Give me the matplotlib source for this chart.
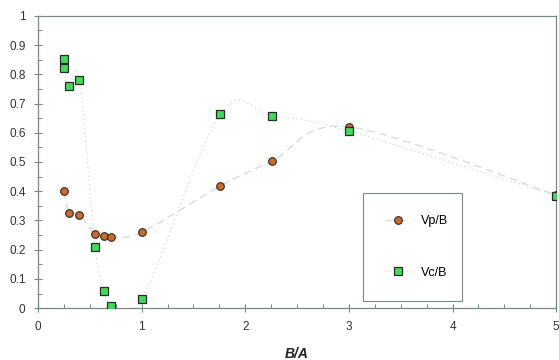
import numpy as np
import matplotlib.pyplot as plt
from matplotlib.ticker import MultipleLocator
from matplotlib.lines import Line2D

# data
vp_x = [0.25, 0.30, 0.40, 0.55, 0.64, 0.70, 1.00, 1.76, 2.26, 3.00, 5.00]
vp_y = [0.400, 0.325, 0.320, 0.253, 0.247, 0.243, 0.260, 0.418, 0.503, 0.620, 0.387]

vc_x = [0.25, 0.25, 0.30, 0.40, 0.55, 0.64, 0.70, 1.00, 1.76, 2.26, 3.00, 5.00]
vc_y = [0.853, 0.820, 0.760, 0.780, 0.210, 0.060, 0.007, 0.030, 0.664, 0.658, 0.606, 0.385]


def smooth(xs, ys, n=20):
    # Catmull-Rom curve through the points (like a spreadsheet "smoothed line")
    p = np.column_stack([xs, ys]).astype(float)
    p = np.vstack([p[0], p, p[-1]])
    out = []
    t = np.linspace(0, 1, n)[:, None]
    for i in range(1, len(p) - 2):
        p0, p1, p2, p3 = p[i - 1], p[i], p[i + 1], p[i + 2]
        seg = 0.5 * ((2 * p1) + (-p0 + p2) * t + (2 * p0 - 5 * p1 + 4 * p2 - p3) * t ** 2
                     + (-p0 + 3 * p1 - 3 * p2 + p3) * t ** 3)
        out.append(seg)
    out = np.vstack(out)
    return out[:, 0], out[:, 1]


plt.rcParams['font.family'] = ['Liberation Sans', 'DejaVu Sans']

fig = plt.figure(figsize=(5.59, 3.6), dpi=100)
ax = fig.add_axes([0.068, 0.144, 0.927, 0.812])

line_col = "#d4d8d8"
sx, sy = smooth(vp_x, vp_y)
ax.plot(sx, sy, color=line_col, lw=0.9, ls=(0, (6, 4)), zorder=1)
sx, sy = smooth(vc_x, vc_y)
ax.plot(sx, sy, color=line_col, lw=0.9, ls=(0, (1, 2.5)), zorder=1)

ax.plot(vp_x, vp_y, ls="none", marker="o", ms=5.5, mfc="#cc6a2c", mec="#2a2a2a", mew=0.8, zorder=3)
ax.plot(vc_x, vc_y, ls="none", marker="s", ms=5.5, mfc="#3fdc5c", mec="#2a2a2a", mew=0.9, zorder=3)

ax.set_xlim(0, 5)
ax.set_ylim(0, 1)
ax.xaxis.set_major_locator(MultipleLocator(1))
ax.xaxis.set_minor_locator(MultipleLocator(0.25))
ax.yaxis.set_minor_locator(MultipleLocator(0.05))
ax.set_yticks(np.arange(0, 1.01, 0.1))
ax.set_yticklabels(["0", "0.1", "0.2", "0.3", "0.4", "0.5", "0.6", "0.7", "0.8", "0.9", "1"])

spine_col = "#7a8888"
for s in ax.spines.values():
    s.set_color(spine_col)
    s.set_linewidth(0.9)
ax.tick_params(which="major", direction="inout", length=6, width=0.8, color=spine_col,
               labelsize=8.5, labelcolor="#333333", pad=6)
ax.tick_params(which="minor", direction="in", length=3, width=0.7, color=spine_col)

ax.set_xlabel("B/A", fontsize=10, fontweight="bold", fontstyle="italic", color="#222222", labelpad=10)

# legend box
h1 = Line2D([], [], color=line_col, lw=0.9, ls=(0, (6, 4)), marker="o", ms=5.5,
            mfc="#cc6a2c", mec="#2a2a2a", mew=0.8)
h2 = Line2D([], [], color=line_col, lw=0.9, ls=(0, (1, 2.5)), marker="s", ms=5.5,
            mfc="#3fdc5c", mec="#2a2a2a", mew=0.9)
leg = ax.legend([h1, h2], ["Vp/B", "Vc/B"], loc="upper left", bbox_to_anchor=(0.627, 0.394, 0.191, 0.0),
                mode="expand", borderaxespad=0, fancybox=False, framealpha=1, edgecolor=spine_col,
                fontsize=9, labelspacing=3.15, handlelength=2.0, borderpad=1.8, handletextpad=0.85)
leg.get_frame().set_linewidth(0.8)

fig.savefig("out.png", dpi=100)
